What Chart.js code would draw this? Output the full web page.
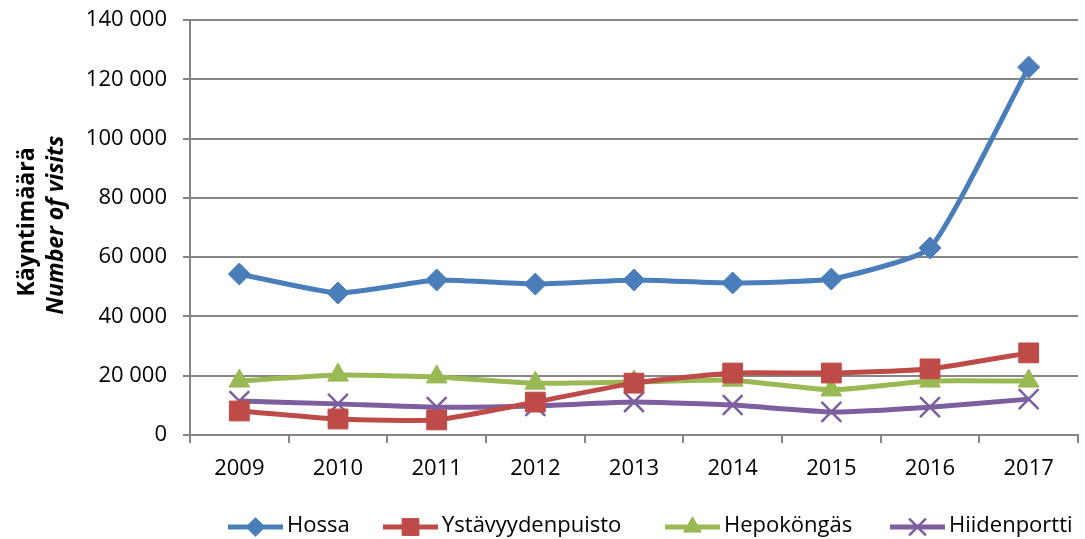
<!DOCTYPE html>
<html>
<head>
<meta charset="utf-8">
<script src="https://cdn.jsdelivr.net/npm/chart.js@4/dist/chart.umd.min.js"></script>
<style>
  html, body { margin: 0; padding: 0; background: #fff; }
  #wrap { width: 1085px; height: 539px; position: relative; }
</style>
</head>
<body>
<div id="wrap"><canvas id="visitsChart" width="1085" height="539"></canvas></div>
<script>
const years = ["2009", "2010", "2011", "2012", "2013", "2014", "2015", "2016", "2017"];
const hossa = [54300, 47900, 52300, 50900, 52300, 51300, 52600, 63100, 124100];
const ystavyydenpuisto = [8100, 5400, 5100, 11100, 17500, 20900, 20900, 22300, 27700];
const hepokongas = [18200, 20200, 19600, 17500, 17900, 18500, 15200, 18200, 18200];
const hiidenportti = [11500, 10500, 9400, 9800, 11100, 10100, 7800, 9400, 12100];
const yTitleLines = ["Käyntimäärä", "Number of visits"];

const FONT = "'Open Sans', 'Noto Sans', sans-serif";
const axisGray = "#868686";

function formatThousands(v) {
  return String(v).replace(/\B(?=(\d{3})+(?!\d))/g, " ");
}

function series(label, data, color, pointStyle, radius, pointBorder) {
  return {
    label,
    data,
    borderColor: color,
    backgroundColor: color,
    borderWidth: 5,
    pointStyle,
    pointRadius: radius,
    pointHoverRadius: radius,
    pointBorderColor: color,
    pointBackgroundColor: color,
    pointBorderWidth: pointBorder,
    tension: 0.15
  };
}

function noScalePadding(scale) {
  scale.paddingTop = 0;
  scale.paddingBottom = 0;
  scale.paddingLeft = 0;
  scale.paddingRight = 0;
}

// Y-axis title (two lines, second italic) drawn rotated
const yTitlePlugin = {
  id: "yTitle",
  afterDraw(chart) {
    const { ctx } = chart;
    const lines = [
      { text: yTitleLines[0], x: 27, y: 222, font: `bold 23px ${FONT}` },
      { text: yTitleLines[1], x: 56, y: 225, font: `italic bold 23px ${FONT}` }
    ];
    lines.forEach((ln) => {
      ctx.save();
      ctx.fillStyle = "#000";
      ctx.textAlign = "center";
      ctx.textBaseline = "middle";
      ctx.translate(ln.x, ln.y);
      ctx.rotate(-Math.PI / 2);
      ctx.font = ln.font;
      ctx.fillText(ln.text, 0, 0);
      ctx.restore();
    });
  }
};

// Excel-style legend: line segment with marker in the middle
const lineLegendPlugin = {
  id: "lineLegend",
  afterDraw(chart) {
    const { ctx } = chart;
    const starts = [228, 383, 665, 890];
    const y = 527;
    const segLen = 55;
    ctx.save();
    chart.data.datasets.forEach((ds, i) => {
      const x0 = starts[i];
      ctx.beginPath();
      ctx.strokeStyle = ds.borderColor;
      ctx.lineWidth = 5;
      ctx.moveTo(x0, y);
      ctx.lineTo(x0 + segLen, y);
      ctx.stroke();
      ctx.fillStyle = ds.backgroundColor;
      ctx.strokeStyle = ds.borderColor;
      ctx.lineWidth = ds.pointBorderWidth;
      Chart.helpers.drawPoint(ctx, {
        pointStyle: ds.pointStyle,
        radius: ds.pointRadius * 0.85,
        rotation: 0,
        borderWidth: ds.pointBorderWidth
      }, x0 + segLen / 2, y);
      ctx.fillStyle = "#000";
      ctx.font = `22px ${FONT}`;
      ctx.textAlign = "left";
      ctx.textBaseline = "middle";
      ctx.fillText(ds.label, x0 + segLen + 4, y - 1);
    });
    ctx.restore();
  }
};

new Chart(document.getElementById("visitsChart"), {
  type: "line",
  data: {
    labels: years,
    datasets: [
      series("Hossa", hossa, "#4A7EBB", "rectRot", 11, 1),
      series("Ystävyydenpuisto", ystavyydenpuisto, "#BE4B48", "rect", 14, 1),
      series("Hepoköngäs", hepokongas, "#98B954", "triangle", 12, 1),
      series("Hiidenportti", hiidenportti, "#7D5FA0", "crossRot", 14, 2.5)
    ]
  },
  options: {
    responsive: false,
    animation: false,
    layout: { autoPadding: false, padding: { left: 70, right: 7, top: 20, bottom: 0 } },
    plugins: {
      legend: { display: false },
      tooltip: { enabled: false }
    },
    scales: {
      x: {
        offset: true,
        afterFit(scale) {
          scale.height = 104;
          noScalePadding(scale);
        },
        grid: {
          offset: true,
          drawOnChartArea: false,
          drawTicks: true,
          tickLength: 8,
          color: axisGray,
          lineWidth: 2
        },
        border: { color: axisGray, width: 2 },
        ticks: {
          color: "#000",
          padding: 13,
          maxRotation: 0,
          font: { family: FONT, size: 22 }
        }
      },
      y: {
        min: 0,
        max: 140000,
        afterFit(scale) {
          scale.width = 120;
          noScalePadding(scale);
        },
        grid: {
          color: axisGray,
          lineWidth: 2,
          tickLength: 7
        },
        border: { color: axisGray, width: 2 },
        ticks: {
          stepSize: 20000,
          color: "#000",
          padding: 16,
          font: { family: FONT, size: 22 },
          callback: (v) => formatThousands(v)
        }
      }
    }
  },
  plugins: [yTitlePlugin, lineLegendPlugin]
});
</script>
</body>
</html>
